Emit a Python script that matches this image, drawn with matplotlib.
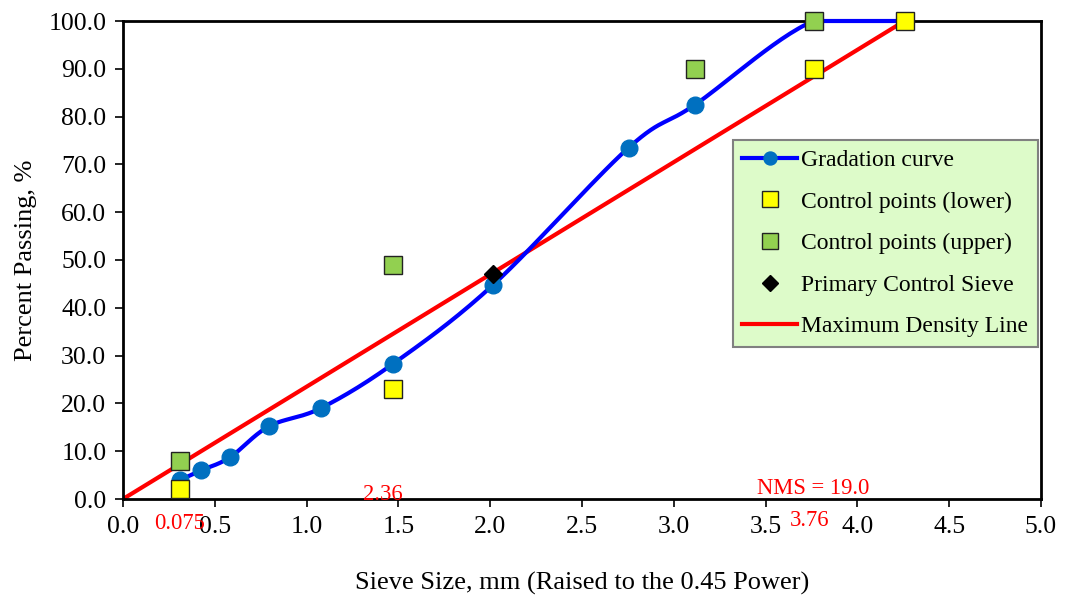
import numpy as np
import matplotlib
matplotlib.use("Agg")
import matplotlib.pyplot as plt
from matplotlib.ticker import FormatStrFormatter

plt.rcParams['font.family'] = ['Liberation Serif', 'DejaVu Serif']

# sieve sizes (mm) and percent passing
sieves = [0.075, 0.15, 0.3, 0.6, 1.18, 2.36, 4.75, 9.5, 12.5, 19.0, 25.0]
passing = [4.0, 6.0, 8.7, 15.2, 19.0, 28.3, 44.8, 73.5, 82.5, 100.0, 100.0]

lower_sieves = [0.075, 2.36, 19.0, 25.0]
lower_pass = [2.0, 23.0, 90.0, 100.0]
upper_sieves = [0.075, 2.36, 12.5, 19.0]
upper_pass = [8.0, 49.0, 90.0, 100.0]
pcs_sieve = [4.75]
pcs_pass = [47.0]
mdl_sieves = [0.0, 25.0]
mdl_pass = [0.0, 100.0]


def p45(s):
    return np.power(np.asarray(s, dtype=float), 0.45)


def smooth(x, y, n=30):
    # catmull-rom style smoothing, like Excel's smoothed line
    x = np.asarray(x); y = np.asarray(y)
    px = np.concatenate([[2 * x[0] - x[1]], x, [2 * x[-1] - x[-2]]])
    py = np.concatenate([[2 * y[0] - y[1]], y, [2 * y[-1] - y[-2]]])
    xs, ys = [], []
    t = np.linspace(0, 1, n)
    for i in range(1, len(px) - 2):
        for arr, out in ((px, xs), (py, ys)):
            p0, p1, p2, p3 = arr[i - 1], arr[i], arr[i + 1], arr[i + 2]
            m1 = (p2 - p0) / 6.0
            m2 = (p3 - p1) / 6.0
            c1 = p1 + m1
            c2 = p2 - m2
            out.extend((1 - t) ** 3 * p1 + 3 * (1 - t) ** 2 * t * c1
                       + 3 * (1 - t) * t ** 2 * c2 + t ** 3 * p2)
    return np.array(xs), np.array(ys)


fig = plt.figure(figsize=(10.67, 5.96), dpi=100)
ax = fig.add_axes([123 / 1067, 1 - 499 / 596, 918 / 1067, 478 / 596])

gx, gy = p45(sieves), np.array(passing)
sx, sy = smooth(gx, gy)
sy = np.minimum(sy, max(passing))
ax.plot(sx, sy, color='#0000FF', lw=3, zorder=3, clip_on=False)
ax.plot(gx, gy, 'o', color='#0070C0', ms=12, zorder=4, clip_on=False)
ax.plot([], [], '-o', color='#0000FF', mfc='#0070C0', mec='#0070C0', lw=3, ms=11,
        label='Gradation curve')

ax.plot(p45(lower_sieves), lower_pass, 's', ms=13, mfc='#FFFF00', mec='#222222',
        mew=1.0, ls='none', zorder=5, clip_on=False, label='Control points (lower)')
ax.plot(p45(upper_sieves), upper_pass, 's', ms=13, mfc='#92D050', mec='#222222',
        mew=1.0, ls='none', zorder=5, clip_on=False, label='Control points (upper)')
ax.plot(p45(pcs_sieve), pcs_pass, 'D', ms=9, color='black', ls='none', zorder=6,
        label='Primary Control Sieve')
ax.plot(p45(mdl_sieves), mdl_pass, color='#FF0000', lw=3, zorder=2,
        label='Maximum Density Line')

h, l = ax.get_legend_handles_labels()
leg = ax.legend(h, l, loc='upper left', bbox_to_anchor=(0.6645, 0.751),
                fontsize=17, frameon=True, fancybox=False, handlelength=2.3,
                labelspacing=0.85, borderpad=0.4, handletextpad=0.2,
                borderaxespad=0, markerscale=0.85)
leg.get_frame().set_facecolor('#DDFBC9')
leg.get_frame().set_edgecolor('#808080')
leg.get_frame().set_linewidth(1.5)
leg.get_frame().set_alpha(1)

ax.set_xlim(0, 5)
ax.set_ylim(0, 100)
ax.set_xticks(np.arange(0, 5.01, 0.5))
ax.set_yticks(np.arange(0, 100.1, 10))
ax.xaxis.set_major_formatter(FormatStrFormatter('%.1f'))
ax.yaxis.set_major_formatter(FormatStrFormatter('%.1f'))
ax.tick_params(direction='out', length=6, width=1.2, labelsize=18.5, pad=6)
for sp in ax.spines.values():
    sp.set_linewidth(2)

ax.set_xlabel('Sieve Size, mm (Raised to the 0.45 Power)', fontsize=19, labelpad=25)
ax.set_ylabel('Percent Passing, %', fontsize=19, labelpad=8)

ax.text(0.31, -5.2, '0.075', color='red', fontsize=16.3, ha='center', va='center', clip_on=False)
ax.text(1.416, 1.0, '2.36', color='red', fontsize=16.3, ha='center', va='center', clip_on=False)
ax.text(3.76, 2.2, 'NMS = 19.0', color='red', fontsize=16.3, ha='center', va='center', clip_on=False)
ax.text(3.74, -4.6, '3.76', color='red', fontsize=16.3, ha='center', va='center', clip_on=False)

fig.savefig('out.png', dpi=100)
